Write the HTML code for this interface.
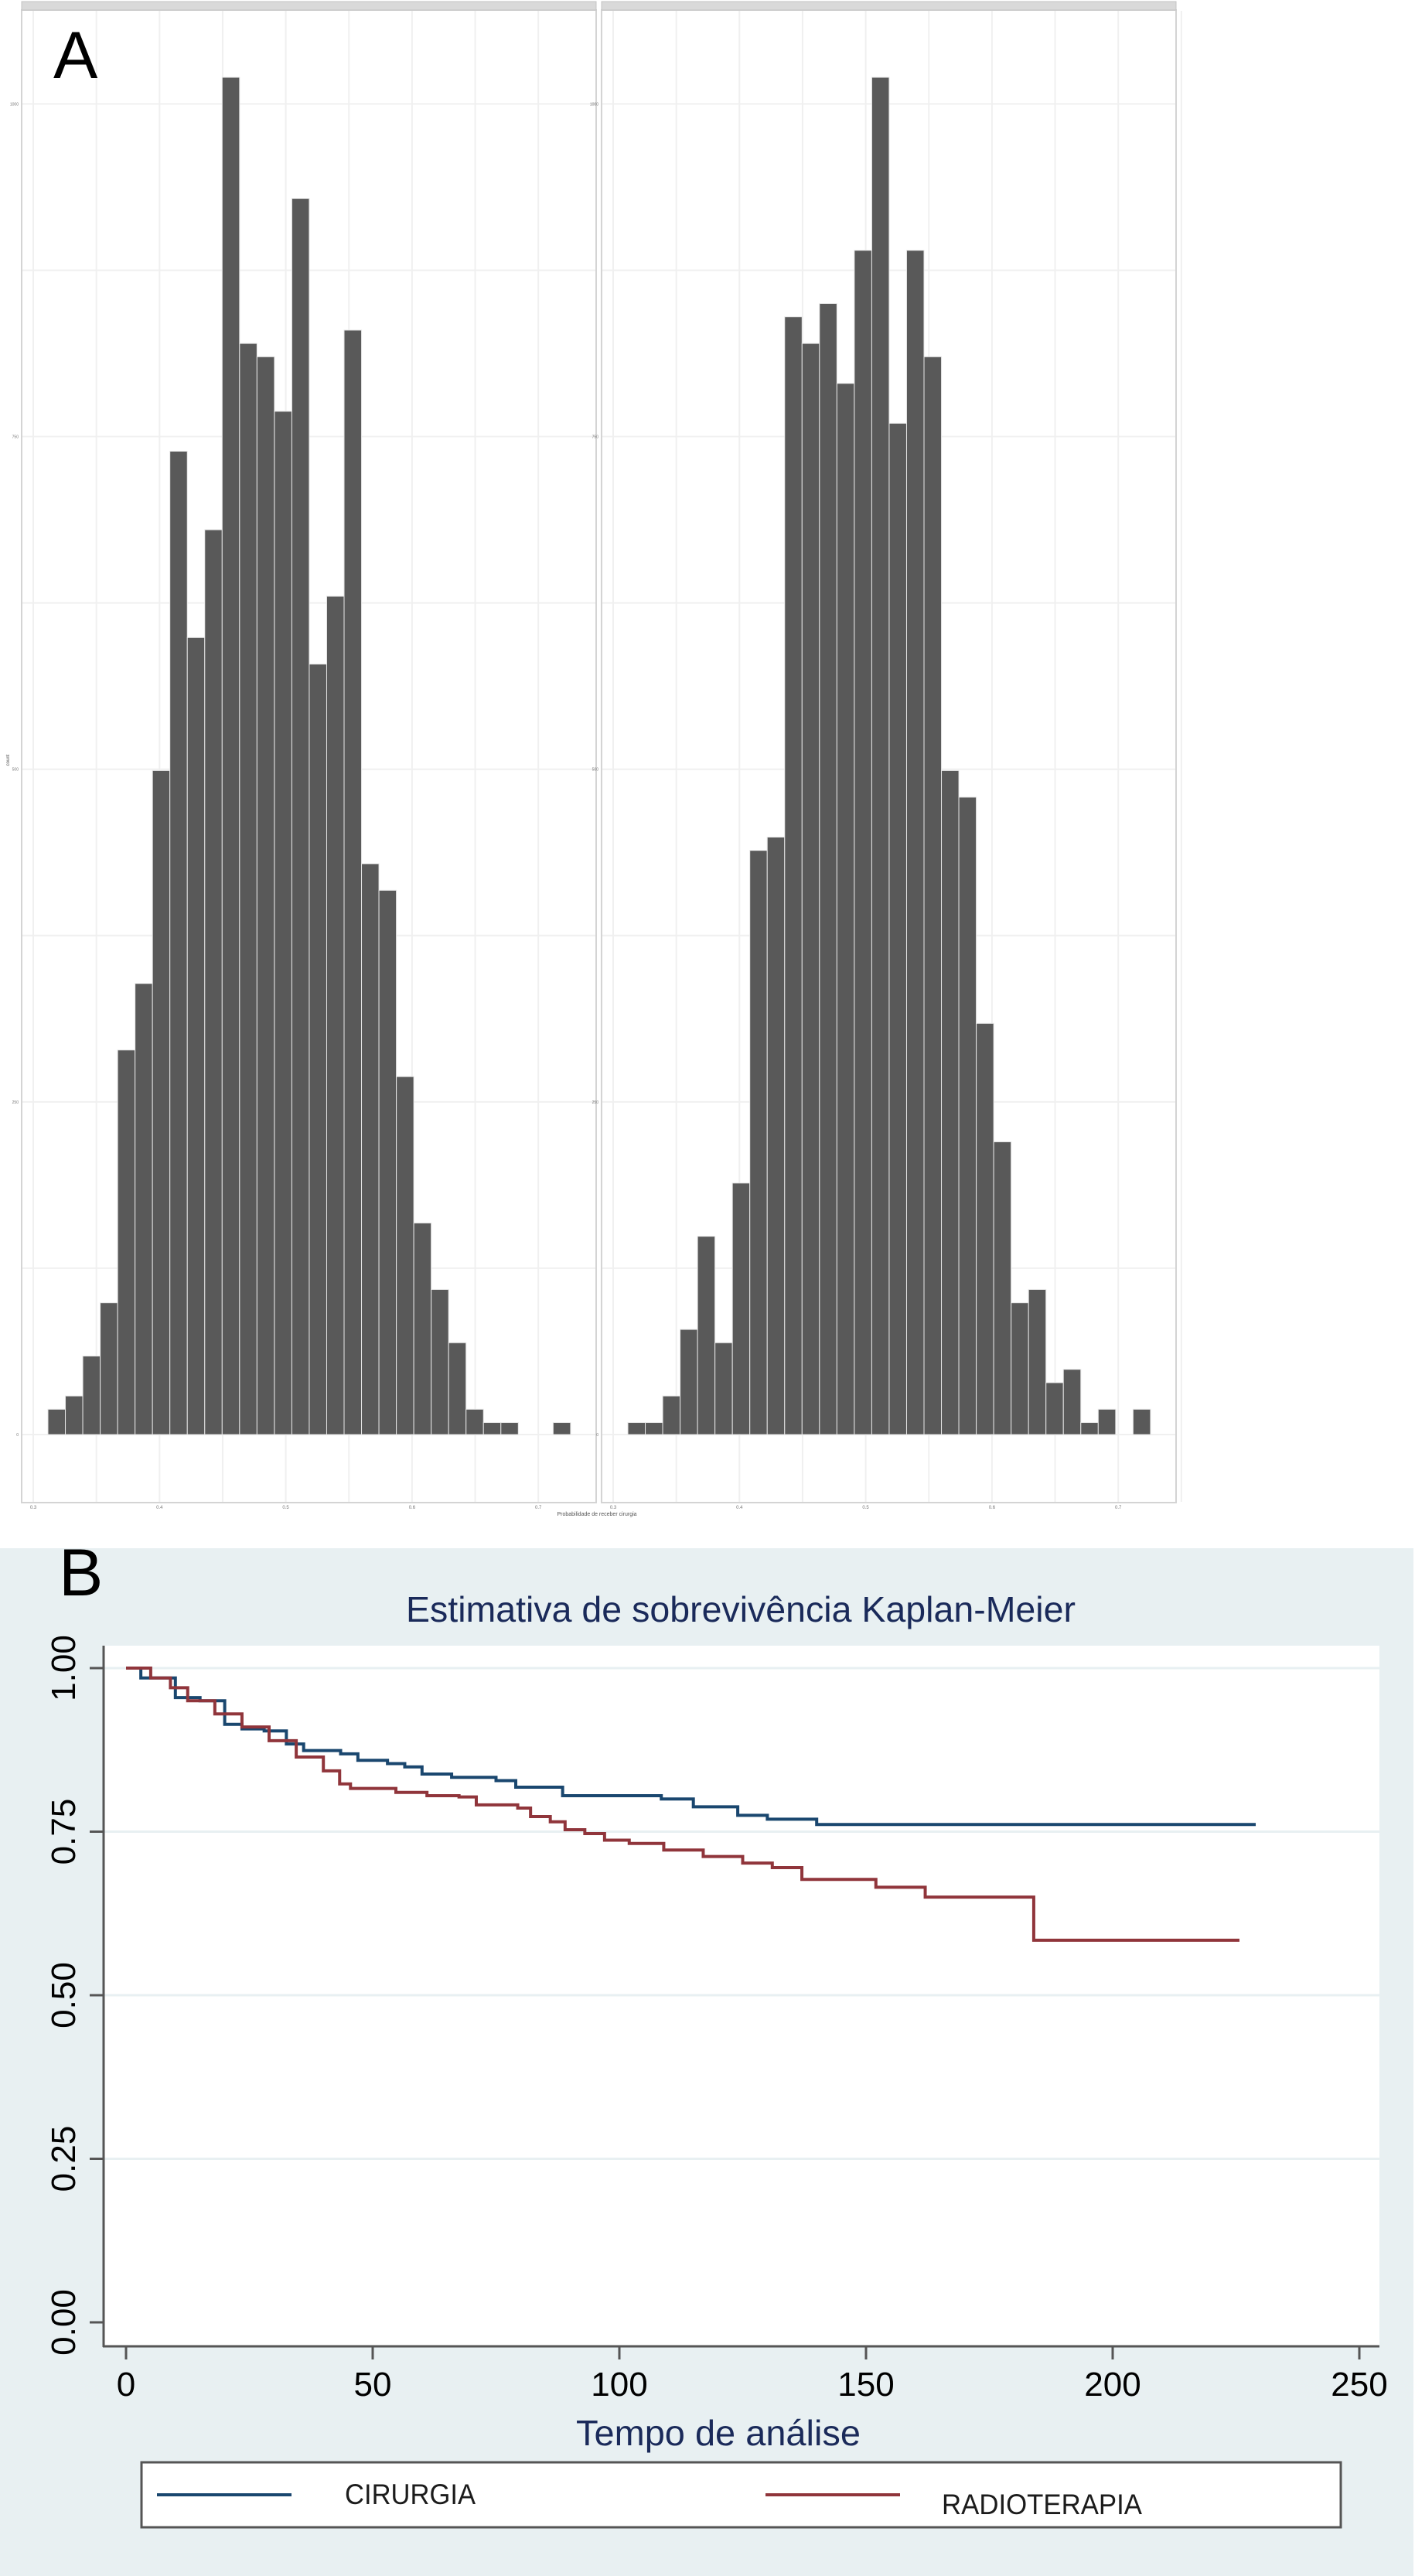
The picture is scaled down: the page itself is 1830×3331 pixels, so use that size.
<!DOCTYPE html>
<html><head><meta charset="utf-8"><style>
html,body{margin:0;padding:0;background:#fff;}
svg{display:block;font-family:"Liberation Sans",sans-serif;}
</style></head><body>
<svg id="fig" width="1830" height="3331" viewBox="0 0 1830 3331" xmlns="http://www.w3.org/2000/svg">
<rect x="0" y="0" width="1830" height="3331" fill="#fff"/>
<g id="panelA"></g>
<text x="69" y="101" font-size="86" fill="#000">A</text>
<g id="panelB"></g>
</svg>
<script>
// ---- Panel A data ----
const histTicks = ["0.3","0.4","0.5","0.6","0.7"];
const histYTicks = [0,250,500,750,1000];
const histLeftCounts = [19,29,59,99,289,339,499,739,599,680,1020,820,810,769,929,579,630,830,429,409,269,159,109,69,19,9,9,0,0,9];
const histRightCounts = [9,9,29,79,149,69,189,439,449,840,820,850,790,890,1020,760,890,810,499,479,309,220,99,109,39,49,9,19,0,19];
// ---- Panel B data ----
const kmXTicks = [0,50,100,150,200,250];
const kmYTicks = [0,0.25,0.5,0.75,1];
const kmYLabels = ["0.00","0.25","0.50","0.75","1.00"];
const cirTimes = [0,3,10,15,20,23.5,28,32.5,36,43.5,47,53,56.5,60,66,75,79,88.5,108.5,115,124,130,140,229];
const cirSurv  = [1,0.985,0.955,0.95,0.914,0.907,0.904,0.884,0.874,0.869,0.859,0.854,0.849,0.838,0.833,0.828,0.818,0.805,0.8,0.788,0.775,0.769,0.761,0.761];
const radTimes = [0,5,9,12.5,18,23.5,29,34.5,40,43.3,45.5,54.7,61,67.5,71,79.4,82,86,89,93,97,102,109,117,125,131,137,152,162,184,225.7];
const radSurv  = [1,0.985,0.97,0.95,0.93,0.91,0.889,0.864,0.843,0.823,0.816,0.81,0.805,0.803,0.791,0.786,0.773,0.765,0.753,0.747,0.737,0.732,0.722,0.712,0.702,0.695,0.677,0.665,0.65,0.584,0.584];

const NS="http://www.w3.org/2000/svg";
function mk(tag, attrs, parent){const e=document.createElementNS(NS,tag);for(const k in attrs)e.setAttribute(k,attrs[k]);parent.appendChild(e);return e;}

// Panel A
const A=document.getElementById('panelA');
const yA=c=>1855-c*1.7206;
const binW=22.53;
function drawHist(offset, counts, name){
  const g=mk('g',{},A);
  
  
  const px0=28+offset, px1=771+offset;
  mk('rect',{x:px0,y:13,width:px1-px0,height:1930,fill:'#fff',stroke:'#d4d4d4','stroke-width':2},g);
  const strip=mk('rect',{x:px0,y:2,width:px1-px0,height:11,fill:'#d9d9d9',stroke:'#c4c4c4','stroke-width':1},g);
  
  
  const xv=v=>43+offset+(v-0.3)*1633;
  for(let v=0.3;v<=0.751;v+=0.05){mk('line',{x1:xv(v),x2:xv(v),y1:14,y2:1942,stroke:'#f0f0f0','stroke-width':2},g);}
  for(let c=0;c<=1125;c+=125){mk('line',{x1:px0+1,x2:px1-1,y1:yA(c),y2:yA(c),stroke:'#f0f0f0','stroke-width':2},g);}
  histYTicks.forEach(t=>{const tx=mk('text',{x:px0-4,y:yA(t)+2,'font-size':5,'text-anchor':'end',fill:'#777'},g);tx.textContent=t;});
  histTicks.forEach(t=>{const tx=mk('text',{x:xv(+t),y:1951,'font-size':6,'text-anchor':'middle',fill:'#777'},g);tx.textContent=t;});
  counts.forEach((c,i)=>{
    if(c<=0)return;
    const r=mk('rect',{x:62+offset+i*binW,y:yA(c),width:binW,height:yA(0)-yA(c),fill:'#595959',stroke:'#e6e6e6','stroke-width':1},g);
    
    
  });
}
drawHist(0,histLeftCounts,'histogram-left');
drawHist(750,histRightCounts,'histogram-right');
{const t=mk('text',{x:772,y:1960,'font-size':7,'text-anchor':'middle',fill:'#555'},A);t.textContent='Probabilidade de receber cirurgia';

const t2=mk('text',{x:12,y:983,'font-size':6,'text-anchor':'middle',fill:'#555',transform:'rotate(-90 12 983)'},A);t2.textContent='count';
}

// Panel B
const B=document.getElementById('panelB');
mk('rect',{x:0,y:2002,width:1828,height:1329,fill:'#e8f0f2'},B);
const xB=t=>163+t*6.38;
const yB=s=>3003-s*846;
mk('rect',{x:134,y:2128,width:1650,height:906,fill:'#fff'},B);
kmYTicks.forEach((v,i)=>{
  if(v>0) mk('line',{x1:135,x2:1784,y1:yB(v),y2:yB(v),stroke:'#e8f0f2','stroke-width':3},B);
  mk('line',{x1:116,x2:134,y1:yB(v),y2:yB(v),stroke:'#555','stroke-width':3},B);
  const tx=mk('text',{x:0,y:0,'font-size':44,'text-anchor':'middle',fill:'#000',transform:`translate(97 ${yB(v)}) rotate(-90)`},B);
  tx.textContent=kmYLabels[i];
  
  
});
mk('line',{x1:134,x2:134,y1:2128,y2:3035,stroke:'#555','stroke-width':3},B);
mk('line',{x1:133,x2:1784,y1:3034,y2:3034,stroke:'#555','stroke-width':3},B);
kmXTicks.forEach(v=>{
  mk('line',{x1:xB(v),x2:xB(v),y1:3034,y2:3051,stroke:'#555','stroke-width':3},B);
  const tx=mk('text',{x:xB(v),y:3098,'font-size':44,'text-anchor':'middle',fill:'#000'},B);
  tx.textContent=v;
  
  
});
function stepPath(ts,ss){let d=`M${xB(ts[0])},${yB(ss[0])}`;for(let i=1;i<ts.length;i++){d+=` H${xB(ts[i])} V${yB(ss[i])}`;}return d;}
{const p=mk('path',{d:stepPath(cirTimes,cirSurv),fill:'none',stroke:'#1a476f','stroke-width':4},B);

const q=mk('path',{d:stepPath(radTimes,radSurv),fill:'none',stroke:'#90353b','stroke-width':4},B);
}
{const t=mk('text',{x:958,y:2097,'font-size':46,'text-anchor':'middle',fill:'#1a2a5a',textLength:866,lengthAdjust:'spacingAndGlyphs'},B);t.textContent='Estimativa de sobrevivência Kaplan-Meier';

const t2=mk('text',{x:929,y:3162,'font-size':46,'text-anchor':'middle',fill:'#1a2a5a',textLength:368,lengthAdjust:'spacingAndGlyphs'},B);t2.textContent='Tempo de análise';

const lb=mk('rect',{x:183,y:3184,width:1551,height:84,fill:'#fff',stroke:'#555','stroke-width':3},B);

mk('line',{x1:203,x2:377,y1:3226,y2:3226,stroke:'#1a476f','stroke-width':4},B);
mk('line',{x1:990,x2:1164,y1:3226,y2:3226,stroke:'#90353b','stroke-width':4},B);
const l1=mk('text',{x:446,y:3238,'font-size':37,fill:'#1c1c1c',textLength:169,lengthAdjust:'spacingAndGlyphs'},B);l1.textContent='CIRURGIA';

const l2=mk('text',{x:1218,y:3251,'font-size':37,fill:'#1c1c1c',textLength:259,lengthAdjust:'spacingAndGlyphs'},B);l2.textContent='RADIOTERAPIA';

const bl=mk('text',{x:76,y:2063,'font-size':86,fill:'#000'},B);bl.textContent='B';
}
</script>
</body></html>
